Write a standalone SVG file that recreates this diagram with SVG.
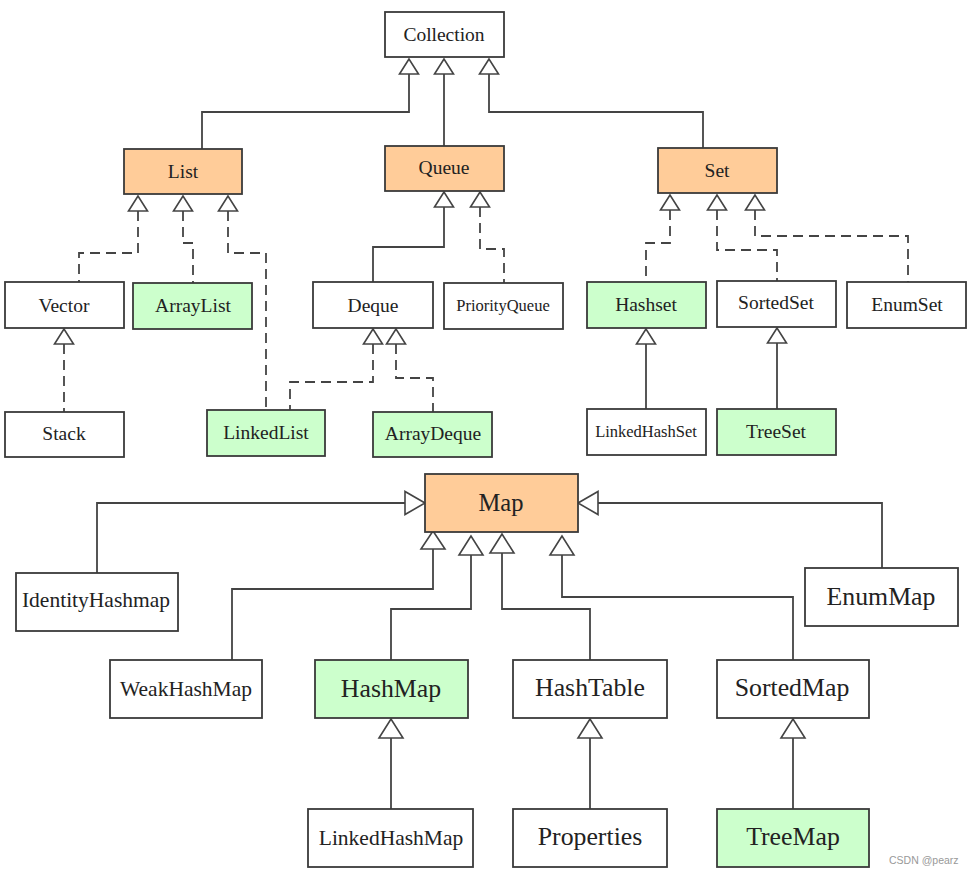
<svg xmlns="http://www.w3.org/2000/svg" width="971" height="875" viewBox="0 0 971 875">
<style>
.box{fill:#fff;stroke:#3a3a3a;stroke-width:1.8}
.peach{fill:#ffcc99}
.green{fill:#ccffcc}
.t{font-family:"Liberation Serif","Times New Roman",serif;fill:#222;text-anchor:middle}
.s19{font-size:19.5px}
.s16{font-size:16.5px}
.s21{font-size:21.5px}
.s26{font-size:25.8px}
.ln{fill:none;stroke:#444;stroke-width:1.8}
.dash{stroke-dasharray:10 6}
.tri{fill:#fff;stroke:#444;stroke-width:1.6;stroke-linejoin:miter}
.wm{font-family:"Liberation Sans",Arial,sans-serif;font-size:10.5px;fill:#999}
</style>
<rect width="971" height="875" fill="#fff"/>
<g id="connectors">
<path class="ln" d="M409 74V112H202V149"/>
<path class="ln" d="M444 74V146"/>
<path class="ln" d="M489 74V112H703V148"/>
<path class="ln dash" d="M138 211V253H79V282"/>
<path class="ln dash" d="M183 211V243H193V283"/>
<path class="ln dash" d="M228 211V253H266V410"/>
<path class="ln" d="M444 207V247H373V282"/>
<path class="ln dash" d="M480 207V249H504V283"/>
<path class="ln dash" d="M670 210V243H646V282"/>
<path class="ln dash" d="M717 210V250H777V281"/>
<path class="ln dash" d="M755 210V236H908V282"/>
<path class="ln dash" d="M64 344V412"/>
<path class="ln dash" d="M373 344V382H290V410"/>
<path class="ln dash" d="M396 344V378H433V412"/>
<path class="ln" d="M646 344V409"/>
<path class="ln" d="M777 343V409"/>
<path class="ln" d="M405 503H97V573"/>
<path class="ln" d="M598 503H882V568"/>
<path class="ln" d="M433 549V589H232V660"/>
<path class="ln" d="M471 555V609H391V660"/>
<path class="ln" d="M502 553V609H590V660"/>
<path class="ln" d="M562 555V597H793V660"/>
<path class="ln" d="M391 738V809"/>
<path class="ln" d="M590 738V809"/>
<path class="ln" d="M793 738V809"/>
<polygon class="tri" points="409,59 399.5,74 418.5,74"/>
<polygon class="tri" points="444,59 434.5,74 453.5,74"/>
<polygon class="tri" points="489,59 479.5,74 498.5,74"/>
<polygon class="tri" points="138,196 128.5,211 147.5,211"/>
<polygon class="tri" points="183,196 173.5,211 192.5,211"/>
<polygon class="tri" points="228,196 218.5,211 237.5,211"/>
<polygon class="tri" points="444,192 434.5,207 453.5,207"/>
<polygon class="tri" points="480,192 470.5,207 489.5,207"/>
<polygon class="tri" points="670,195 660.5,210 679.5,210"/>
<polygon class="tri" points="717,195 707.5,210 726.5,210"/>
<polygon class="tri" points="755,195 745.5,210 764.5,210"/>
<polygon class="tri" points="64,329 54.5,344 73.5,344"/>
<polygon class="tri" points="373,329 363.5,344 382.5,344"/>
<polygon class="tri" points="396,329 386.5,344 405.5,344"/>
<polygon class="tri" points="646,329 636.5,344 655.5,344"/>
<polygon class="tri" points="777,328 767.5,343 786.5,343"/>
<polygon class="tri" points="425,503 405,491.5 405,514.5"/>
<polygon class="tri" points="578,503 598,491.5 598,514.5"/>
<polygon class="tri" points="433,531 421,549 445,549"/>
<polygon class="tri" points="471,536 459,555 483,555"/>
<polygon class="tri" points="502,534 490,553 514,553"/>
<polygon class="tri" points="562,536 550,555 574,555"/>
<polygon class="tri" points="391,719 379,738 403,738"/>
<polygon class="tri" points="590,719 578,738 602,738"/>
<polygon class="tri" points="793,719 781,738 805,738"/>
</g>
<g id="Collection"><rect class="box" x="385" y="12" width="119" height="45"/><text class="t s19" x="444" y="41">Collection</text></g>
<g id="List"><rect class="box peach" x="124" y="149" width="118" height="45"/><text class="t s19" x="183" y="178">List</text></g>
<g id="Queue"><rect class="box peach" x="385" y="146" width="119" height="45"/><text class="t s19" x="444" y="174">Queue</text></g>
<g id="Set"><rect class="box peach" x="658" y="148" width="119" height="45"/><text class="t s19" x="717" y="177">Set</text></g>
<g id="Vector"><rect class="box" x="5" y="282" width="119" height="46"/><text class="t s19" x="64" y="312">Vector</text></g>
<g id="ArrayList"><rect class="box green" x="133" y="283" width="119" height="46"/><text class="t s19" x="193" y="312">ArrayList</text></g>
<g id="Deque"><rect class="box" x="313" y="282" width="120" height="46"/><text class="t s19" x="373" y="312">Deque</text></g>
<g id="PriorityQueue"><rect class="box" x="444" y="283" width="119" height="46"/><text class="t s16" x="503" y="311">PriorityQueue</text></g>
<g id="Hashset"><rect class="box green" x="587" y="282" width="119" height="46"/><text class="t s19" x="646" y="311">Hashset</text></g>
<g id="SortedSet"><rect class="box" x="717" y="281" width="119" height="46"/><text class="t s19" x="776" y="309">SortedSet</text></g>
<g id="EnumSet"><rect class="box" x="847" y="282" width="119" height="46"/><text class="t s19" x="907" y="311">EnumSet</text></g>
<g id="Stack"><rect class="box" x="5" y="412" width="119" height="45"/><text class="t s19" x="64" y="440">Stack</text></g>
<g id="LinkedList"><rect class="box green" x="207" y="410" width="118" height="46"/><text class="t s19" x="266" y="439">LinkedList</text></g>
<g id="ArrayDeque"><rect class="box green" x="373" y="412" width="119" height="45"/><text class="t s19" x="433" y="440">ArrayDeque</text></g>
<g id="LinkedHashSet"><rect class="box" x="587" y="409" width="119" height="46"/><text class="t s16" x="646" y="437">LinkedHashSet</text></g>
<g id="TreeSet"><rect class="box green" x="717" y="409" width="119" height="46"/><text class="t s19" x="776" y="438">TreeSet</text></g>
<g id="Map"><rect class="box peach" x="425" y="474" width="153" height="58"/><text class="t" style="font-size:24.5px" x="501" y="511">Map</text></g>
<g id="IdentityHashmap"><rect class="box" x="16" y="573" width="162" height="58"/><text class="t s21" x="96" y="607">IdentityHashmap</text></g>
<g id="EnumMap"><rect class="box" x="805" y="568" width="153" height="58"/><text class="t s26" x="881" y="605">EnumMap</text></g>
<g id="WeakHashMap"><rect class="box" x="110" y="660" width="152" height="58"/><text class="t s21" x="186" y="696">WeakHashMap</text></g>
<g id="HashMap"><rect class="box green" x="315" y="660" width="153" height="58"/><text class="t s26" x="391" y="697">HashMap</text></g>
<g id="HashTable"><rect class="box" x="513" y="660" width="154" height="58"/><text class="t s26" x="590" y="696">HashTable</text></g>
<g id="SortedMap"><rect class="box" x="717" y="660" width="152" height="58"/><text class="t s26" x="792" y="696">SortedMap</text></g>
<g id="LinkedHashMap"><rect class="box" x="308" y="809" width="165" height="58"/><text class="t s21" x="391" y="845">LinkedHashMap</text></g>
<g id="Properties"><rect class="box" x="513" y="809" width="154" height="58"/><text class="t s26" x="590" y="845">Properties</text></g>
<g id="TreeMap"><rect class="box green" x="717" y="809" width="152" height="58"/><text class="t s26" x="793" y="845">TreeMap</text></g>
<text class="wm" x="889" y="864">CSDN @pearz</text>
</svg>
